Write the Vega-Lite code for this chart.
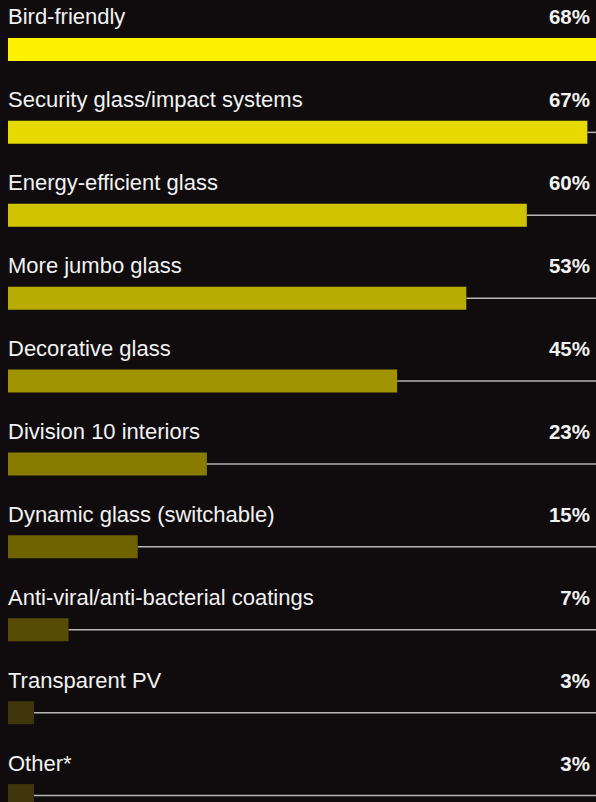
{
  "$schema": "https://vega.github.io/schema/vega-lite/v6.json",
  "width": 596,
  "height": 802,
  "padding": 0,
  "autosize": {"type": "none"},
  "background": "#100c0e",
  "config": {"view": {"stroke": null}},
  "data": {"values": [
    {"label": "Bird-friendly", "value": 68, "pct": "68%", "color": "#fff200"},
    {"label": "Security glass/impact systems", "value": 67, "pct": "67%", "color": "#e6da00"},
    {"label": "Energy-efficient glass", "value": 60, "pct": "60%", "color": "#cfc300"},
    {"label": "More jumbo glass", "value": 53, "pct": "53%", "color": "#b8ac00"},
    {"label": "Decorative glass", "value": 45, "pct": "45%", "color": "#a09400"},
    {"label": "Division 10 interiors", "value": 23, "pct": "23%", "color": "#877b00"},
    {"label": "Dynamic glass (switchable)", "value": 15, "pct": "15%", "color": "#6e6300"},
    {"label": "Anti-viral/anti-bacterial coatings", "value": 7, "pct": "7%", "color": "#574c05"},
    {"label": "Transparent PV", "value": 3, "pct": "3%", "color": "#3f350b"},
    {"label": "Other*", "value": 3, "pct": "3%", "color": "#3f350b"}
  ]},
  "encoding": {
    "y": {"field": "label", "type": "nominal", "sort": null,
          "scale": {"range": [8, 837], "paddingInner": 0, "paddingOuter": 0},
          "axis": null}
  },
  "layer": [
    {
      "mark": {"type": "rule", "color": "#b5b5b5", "strokeWidth": 1.5},
      "encoding": {
        "x": {"field": "value", "type": "quantitative",
              "scale": {"domain": [0, 68], "range": [8, 596], "nice": false, "zero": true}, "axis": null},
        "x2": {"datum": 68}
      }
    },
    {
      "mark": {"type": "bar", "height": 23},
      "encoding": {
        "x": {"field": "value", "type": "quantitative"},
        "color": {"field": "color", "type": "nominal", "scale": null, "legend": null}
      }
    },
    {
      "mark": {"type": "text", "align": "left", "baseline": "alphabetic", "dy": -25,
               "font": "Liberation Sans", "fontSize": 22, "color": "#f2f2f2"},
      "encoding": {
        "x": {"datum": 0},
        "text": {"field": "label"}
      }
    },
    {
      "mark": {"type": "text", "align": "right", "baseline": "alphabetic", "dy": -25, "dx": -6,
               "font": "Liberation Sans", "fontSize": 20.5, "fontWeight": "bold", "color": "#f2f2f2"},
      "encoding": {
        "x": {"datum": 68},
        "text": {"field": "pct"}
      }
    }
  ]
}
